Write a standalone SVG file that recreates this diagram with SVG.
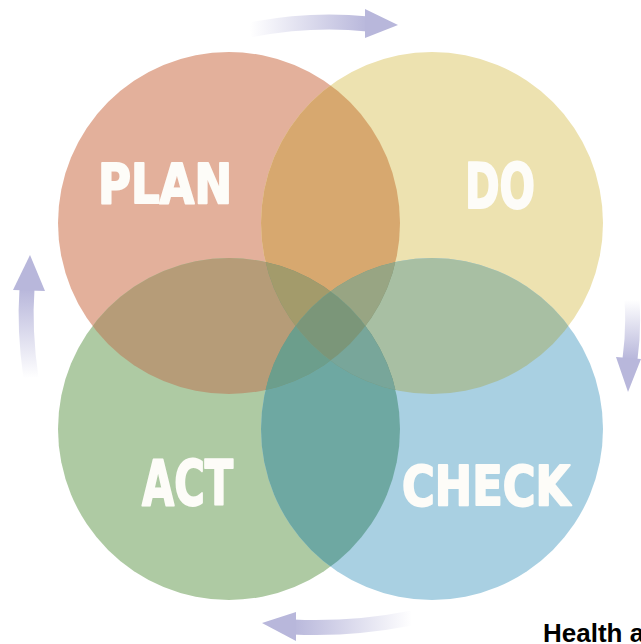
<svg xmlns="http://www.w3.org/2000/svg" width="641" height="644" viewBox="0 0 641 644">
<defs>
<style>
.lbl{font-family:"Liberation Sans Narrow","DejaVu Sans Condensed","Liberation Sans",sans-serif;font-weight:bold;fill:#fdfcf8;stroke:#fdfcf8;stroke-width:2;stroke-linejoin:round}
.shaft{fill:none;stroke-width:15;stroke-linecap:butt}
.head{fill:#b8b7db}
</style>
<clipPath id="cP"><circle cx="229" cy="223" r="171"/></clipPath>
<clipPath id="cD"><circle cx="432" cy="223" r="171"/></clipPath>
<clipPath id="cA"><circle cx="229" cy="429" r="171"/></clipPath>
<clipPath id="cC"><circle cx="432" cy="429" r="171"/></clipPath>
<circle id="sP" cx="229" cy="223" r="171"/>
<circle id="sD" cx="432" cy="223" r="171"/>
<circle id="sA" cx="229" cy="429" r="171"/>
<circle id="sC" cx="432" cy="429" r="171"/>
<linearGradient id="gTop" x1="0" y1="0" x2="1" y2="0"><stop offset="0" stop-color="#b8b7db" stop-opacity="0"/><stop offset="1" stop-color="#b8b7db"/></linearGradient>
<linearGradient id="gBot" x1="1" y1="0" x2="0" y2="0"><stop offset="0" stop-color="#b8b7db" stop-opacity="0"/><stop offset="1" stop-color="#b8b7db"/></linearGradient>
<linearGradient id="gLeft" x1="0" y1="1" x2="0" y2="0"><stop offset="0" stop-color="#b8b7db" stop-opacity="0"/><stop offset="1" stop-color="#b8b7db"/></linearGradient>
<linearGradient id="gRight" x1="0" y1="0" x2="0" y2="1"><stop offset="0" stop-color="#b8b7db" stop-opacity="0"/><stop offset="1" stop-color="#b8b7db"/></linearGradient>
</defs>
<rect width="641" height="644" fill="#ffffff"/>
<g id="plan"><use href="#sP" fill="#e3b09b"/></g>
<g id="do"><use href="#sD" fill="#ede2b0"/></g>
<g id="act"><use href="#sA" fill="#aecaa3"/></g>
<g id="check"><use href="#sC" fill="#a9d0e2"/></g>
<g id="overlaps">
<use href="#sD" clip-path="url(#cP)" fill="#d7a86f"/>
<use href="#sA" clip-path="url(#cP)" fill="#b69c78"/>
<use href="#sC" clip-path="url(#cD)" fill="#a8bfa3"/>
<use href="#sC" clip-path="url(#cA)" fill="#6ea8a2"/>
<use href="#sC" clip-path="url(#cP)" fill="#7b9679"/>
<use href="#sA" clip-path="url(#cD)" fill="#7b9679"/>
<g clip-path="url(#cP)"><use href="#sA" clip-path="url(#cD)" fill="#a39b6b"/></g>
<g clip-path="url(#cP)"><use href="#sC" clip-path="url(#cD)" fill="#98a583"/></g>
<g clip-path="url(#cP)"><use href="#sC" clip-path="url(#cA)" fill="#6c9e8c"/></g>
<g clip-path="url(#cD)"><use href="#sC" clip-path="url(#cA)" fill="#78a69a"/></g>
<g clip-path="url(#cP)"><g clip-path="url(#cD)"><use href="#sC" clip-path="url(#cA)" fill="#7b9679"/></g></g>
</g>
<g id="labels">
<text class="lbl" x="98" y="203" font-size="56" textLength="134" lengthAdjust="spacingAndGlyphs">PLAN</text>
<text class="lbl" x="465" y="208" font-size="62" textLength="70" lengthAdjust="spacingAndGlyphs">DO</text>
<text class="lbl" x="142" y="505" font-size="62" textLength="91" lengthAdjust="spacingAndGlyphs">ACT</text>
<text class="lbl" x="402" y="505" font-size="56" textLength="168" lengthAdjust="spacingAndGlyphs">CHECK</text>
</g>
<g id="connectors">
<path class="shaft" stroke="url(#gTop)" d="M 250 30 Q 310 18 368 24"/>
<polygon class="head" points="365,9 398,25 365,38"/>
<path class="shaft" stroke="url(#gRight)" d="M 632 300 Q 634 330 630 359"/>
<polygon class="head" points="616,357 641,359 628,392"/>
<path class="shaft" stroke="url(#gBot)" d="M 412 618 Q 350 630 293 627"/>
<polygon class="head" points="296,612 262,623 296,641"/>
<path class="shaft" stroke="url(#gLeft)" d="M 31 378 Q 24 330 27 289"/>
<polygon class="head" points="13,290 30,255 45,291"/>
</g>
<text x="543" y="642" font-family="Liberation Sans,Arial,sans-serif" font-weight="bold" font-size="26" fill="#000000">Health a</text>
</svg>
